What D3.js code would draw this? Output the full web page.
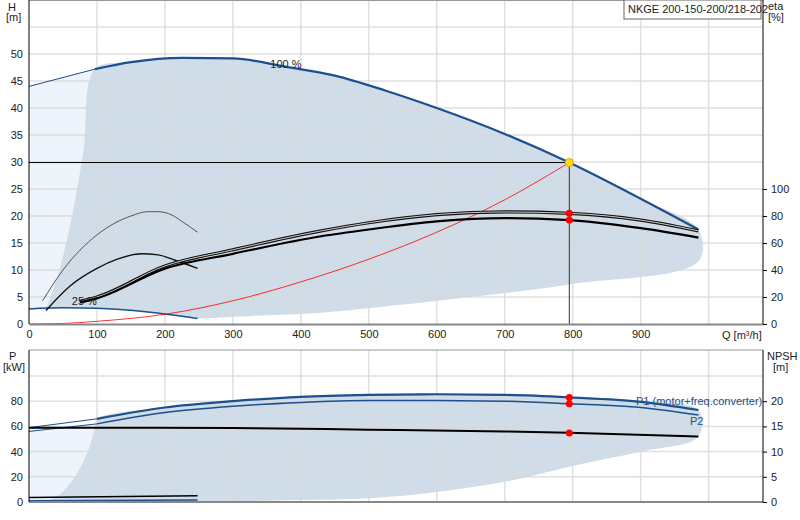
<!DOCTYPE html>
<html lang="en">
<head>
<meta charset="UTF-8">
<title>NKGE 200-150-200/218-202</title>
<script src="https://d3js.org/d3.v7.min.js"></script>
<style>
  body { margin: 0; background: #fff; font-family: "Liberation Sans", Arial, sans-serif; }
  text { font-size: 11px; fill: #222; }
</style>
</head>
<body>
<svg id="chart" width="800" height="520"></svg>
<script>
// ---- data (Q in m3/h) ----
const title = 'NKGE 200-150-200/218-202';
const hTicks = [0, 5, 10, 15, 20, 25, 30, 35, 40, 45, 50];
const etaTicks = [0, 20, 40, 60, 80, 100];
const qTicks = [0, 100, 200, 300, 400, 500, 600, 700, 800, 900];
const pTicks = [0, 20, 40, 60, 80];
const npshTicks = [0, 5, 10, 15, 20];

const h100Thin = [[0, 44], [97, 47.2]];
const h100 = [[97, 47.2], [150, 48.5], [225, 49.3], [300, 49.2], [375, 47.7], [450, 46], [525, 43.2], [600, 40], [700, 35.2], [795, 29.9], [900, 23.2], [985, 17.5]];
const h25 = [[0, 2.8], [50, 3], [100, 2.9], [175, 2.2], [248, 1]];
const areaLeft = [[25, 2.8], [40, 8], [60, 18], [80, 32], [97, 47.2]];
const areaBottom = [[248, 1], [330, 1.5], [430, 2.1], [550, 3.6], [650, 5], [800, 7.4], [985, 11.6]];
const hMid = [[20, 4.3], [50, 10], [100, 16.5], [150, 20], [175, 20.8], [190, 20.8], [210, 20.2], [225, 19], [248, 17]];
const hLow = [[25, 2.5], [60, 7], [100, 10.3], [130, 12], [165, 13], [190, 12.8], [215, 11.8], [248, 10.3]];
const system = [[0, 0], [50, 0.1], [100, 0.5], [200, 1.8], [300, 4.3], [400, 7.8], [500, 12], [600, 17], [700, 23], [795, 29.9]];
const etaTotal = [[75, 16.8], [100, 20], [200, 43], [300, 55], [430, 69], [500, 75], [600, 81], [700, 83], [795, 82], [900, 77], [985, 69]];
const etaPump = [[75, 16], [100, 19], [200, 41], [300, 52], [430, 65], [500, 70], [600, 76], [700, 78.4], [795, 77], [900, 71], [985, 64]];

const p1 = [[0, 59], [100, 66], [200, 75], [300, 80], [400, 83.5], [500, 85], [600, 85.5], [700, 85], [795, 83], [900, 79.5], [985, 73]];
const p2 = [[0, 56], [100, 62], [200, 71], [300, 76], [400, 79], [500, 80.5], [600, 80.5], [700, 80], [795, 78], [900, 75], [985, 69]];
const npsh = [[0, 14.75], [100, 14.75], [300, 14.7], [500, 14.35], [700, 14], [795, 13.75], [985, 13]];
const pLeft = [[25, 0], [45, 6], [65, 18], [85, 38], [97, 59]];
const pBottom = [[248, 0], [400, 1.5], [500, 3], [600, 8], [700, 16], [795, 28], [900, 40], [985, 52]];
const pLowBlack = [[0, 3.5], [248, 5]];
const pLowBlue = [[0, 1], [248, 1.5]];
const duty = { q: 795, h: 29.9, etaT: 82, etaP: 77, p1: 83, p2: 78, npsh: 13.7 };

// ---- layout ----
const svg = d3.select('#chart');
const L = 29, R = 763;
const x = d3.scaleLinear().domain([0, 1080]).range([L, R]);
const yH = d3.scaleLinear().domain([0, 60]).range([324, 0]);
const yEta = d3.scaleLinear().domain([0, 100]).range([324, 189]);
const yP = d3.scaleLinear().domain([0, 100]).range([502, 376]);
const yN = d3.scaleLinear().domain([0, 25]).range([502, 376]);
const blue = '#1b4f8e', dark = '#d0dce7', light = '#edf4fb', grid = '#d9d9d9';

const lineH = d3.line().x(d => x(d[0])).y(d => yH(d[1])).curve(d3.curveMonotoneX);
const lineEta = d3.line().x(d => x(d[0])).y(d => yEta(d[1])).curve(d3.curveMonotoneX);
const lineP = d3.line().x(d => x(d[0])).y(d => yP(d[1])).curve(d3.curveMonotoneX);
const lineN = d3.line().x(d => x(d[0])).y(d => yN(d[1])).curve(d3.curveMonotoneX);
const poly = (pts, ys) => d3.line().x(d => x(d[0])).y(d => ys(d[1])).curve(d3.curveCatmullRom)(pts);

// ---- top panel ----
const gTop = svg.append('g');
gTop.append('path').attr('fill', light)
  .attr('d', poly([...h100Thin, ...areaLeft.slice().reverse(), [0, 2.8]], yH));
gTop.append('path').attr('fill', dark)
  .attr('d', poly([...areaLeft, ...h100.slice(1), ...areaBottom.slice().reverse(), ...h25.slice().reverse().slice(0, 4)], yH));
gTop.append('g').selectAll('line').data(d3.range(5, 60, 5)).join('line')
  .attr('x1', L).attr('x2', R).attr('y1', d => yH(d)).attr('y2', d => yH(d))
  .attr('stroke', grid).attr('stroke-width', 1.5).attr('opacity', 0.8);
gTop.append('g').selectAll('line').data(d3.range(100, 1100, 100)).join('line')
  .attr('x1', d => x(d)).attr('x2', d => x(d)).attr('y1', 0).attr('y2', 324)
  .attr('stroke', grid).attr('stroke-width', 1.5).attr('opacity', 0.8);
gTop.append('line').attr('x1', L).attr('x2', R).attr('y1', 0.5).attr('y2', 0.5).attr('stroke', '#999');

gTop.append('path').attr('d', lineH(h100Thin)).attr('fill', 'none').attr('stroke', blue).attr('stroke-width', 1);
gTop.append('path').attr('d', lineH(h100)).attr('fill', 'none').attr('stroke', blue).attr('stroke-width', 2.2);
gTop.append('path').attr('d', lineH(h25)).attr('fill', 'none').attr('stroke', blue).attr('stroke-width', 1.5);
gTop.append('path').attr('d', lineH(hMid)).attr('fill', 'none').attr('stroke', '#555').attr('stroke-width', 1);
gTop.append('path').attr('d', lineH(hLow)).attr('fill', 'none').attr('stroke', '#111').attr('stroke-width', 1.4);
gTop.append('path').attr('d', lineH(system)).attr('fill', 'none').attr('stroke', '#f00').attr('stroke-width', 0.8);
gTop.append('path').attr('d', lineEta(etaTotal)).attr('fill', 'none').attr('stroke', '#111').attr('stroke-width', 3.2);
gTop.append('path').attr('d', lineEta(etaTotal)).attr('fill', 'none').attr('stroke', '#ccc').attr('stroke-width', 1);
gTop.append('path').attr('d', lineEta(etaPump)).attr('fill', 'none').attr('stroke', '#000').attr('stroke-width', 2.2);

gTop.append('line').attr('x1', L).attr('x2', x(duty.q)).attr('y1', yH(duty.h)).attr('y2', yH(duty.h)).attr('stroke', '#000');
gTop.append('line').attr('x1', x(duty.q)).attr('x2', x(duty.q)).attr('y1', yH(duty.h)).attr('y2', 324).attr('stroke', '#333');
gTop.selectAll('circle.eta').data([duty.etaT, duty.etaP]).join('circle')
  .attr('cx', x(duty.q)).attr('cy', d => yEta(d)).attr('r', 3.5).attr('fill', '#f00');
gTop.append('circle').attr('cx', x(duty.q)).attr('cy', yH(duty.h)).attr('r', 4)
  .attr('fill', '#ffe000').attr('stroke', '#f0a000');

gTop.append('text').attr('x', x(355)).attr('y', yH(47.4)).text('100 %');
gTop.append('text').attr('x', x(63)).attr('y', yH(3.5)).text('25 %');

const ax = gTop.append('g').attr('transform', 'translate(0,324)')
  .call(d3.axisBottom(x).tickValues(qTicks).tickSize(0).tickPadding(6));
ax.select('.domain').attr('stroke', '#888').attr('stroke-width', 2);
gTop.append('text').attr('x', 722).attr('y', 339).text('Q [m³/h]');

const ay = gTop.append('g').attr('transform', `translate(${L},0)`)
  .call(d3.axisLeft(yH).tickValues(hTicks).tickSize(0).tickPadding(6));
ay.select('.domain').remove();
gTop.append('line').attr('x1', L).attr('x2', L).attr('y1', 0).attr('y2', 324).attr('stroke', '#000');
gTop.append('text').attr('x', 8).attr('y', 11).text('H');
gTop.append('text').attr('x', 6).attr('y', 21).text('[m]');

const ae = gTop.append('g').attr('transform', `translate(${R},0)`)
  .call(d3.axisRight(yEta).tickValues(etaTicks).tickSize(4).tickPadding(4));
ae.select('.domain').remove();
gTop.append('line').attr('x1', R).attr('x2', R).attr('y1', 0).attr('y2', 324).attr('stroke', '#000');
gTop.append('text').attr('x', 768).attr('y', 10).text('eta');
gTop.append('text').attr('x', 768).attr('y', 21).text('[%]');

gTop.append('rect').attr('x', 624).attr('y', 0).attr('width', 137).attr('height', 19)
  .attr('fill', '#fff').attr('stroke', '#666');
gTop.append('text').attr('x', 628).attr('y', 13).text(title);

// ---- bottom panel ----
const gBot = svg.append('g');
gBot.append('path').attr('fill', light)
  .attr('d', poly([[0, 59], [97, 60], ...pLeft.slice().reverse(), [0, 0]], yP));
gBot.append('path').attr('fill', dark)
  .attr('d', poly([...pLeft, ...p1.slice(1), ...pBottom.slice().reverse()], yP));
gBot.append('g').selectAll('line').data([20, 40, 60, 80, 100]).join('line')
  .attr('x1', L).attr('x2', R).attr('y1', d => yP(d)).attr('y2', d => yP(d))
  .attr('stroke', grid).attr('stroke-width', 1.5).attr('opacity', 0.8);
gBot.append('g').selectAll('line').data(d3.range(100, 1100, 100)).join('line')
  .attr('x1', d => x(d)).attr('x2', d => x(d)).attr('y1', 350).attr('y2', 502)
  .attr('stroke', grid).attr('stroke-width', 1.5).attr('opacity', 0.8);
gBot.append('line').attr('x1', L).attr('x2', R).attr('y1', 350).attr('y2', 350).attr('stroke', '#999');

const drawP = (data, w) => {
  gBot.append('path').attr('d', lineP(data.slice(0, 2))).attr('fill', 'none').attr('stroke', blue).attr('stroke-width', 1);
  gBot.append('path').attr('d', lineP(data.slice(1))).attr('fill', 'none').attr('stroke', blue).attr('stroke-width', w);
};
drawP(p1, 2.2);
drawP(p2, 1.4);
gBot.append('path').attr('d', lineN(npsh)).attr('fill', 'none').attr('stroke', '#000').attr('stroke-width', 2);
gBot.append('path').attr('d', lineP(pLowBlack)).attr('fill', 'none').attr('stroke', '#000').attr('stroke-width', 1.5);
gBot.append('path').attr('d', lineP(pLowBlue)).attr('fill', 'none').attr('stroke', blue).attr('stroke-width', 1.5);
gBot.selectAll('circle.pp').data([yP(duty.p1), yP(duty.p2), yN(duty.npsh)]).join('circle')
  .attr('cx', x(duty.q)).attr('cy', d => d).attr('r', 3.5).attr('fill', '#f00');
gBot.append('text').attr('x', 636).attr('y', 405).style('fill', blue).text('P1 (motor+freq.converter)');
gBot.append('text').attr('x', 690).attr('y', 425).style('fill', blue).text('P2');

gBot.append('line').attr('x1', L).attr('x2', R).attr('y1', 502).attr('y2', 502).attr('stroke', '#888').attr('stroke-width', 2);
const bp = gBot.append('g').attr('transform', `translate(${L},0)`)
  .call(d3.axisLeft(yP).tickValues(pTicks).tickSize(0).tickPadding(6));
bp.select('.domain').remove();
gBot.append('line').attr('x1', L).attr('x2', L).attr('y1', 350).attr('y2', 502).attr('stroke', '#000');
gBot.append('text').attr('x', 9).attr('y', 360).text('P');
gBot.append('text').attr('x', 3).attr('y', 371).text('[kW]');
const bn = gBot.append('g').attr('transform', `translate(${R},0)`)
  .call(d3.axisRight(yN).tickValues(npshTicks).tickSize(4).tickPadding(4));
bn.select('.domain').remove();
gBot.append('line').attr('x1', R).attr('x2', R).attr('y1', 350).attr('y2', 502).attr('stroke', '#000');
gBot.append('text').attr('x', 767).attr('y', 360).text('NPSH');
gBot.append('text').attr('x', 773).attr('y', 371).text('[m]');
svg.selectAll('.tick text').style('font-size', '11px').style('fill', '#222');
</script>
</body>
</html>
